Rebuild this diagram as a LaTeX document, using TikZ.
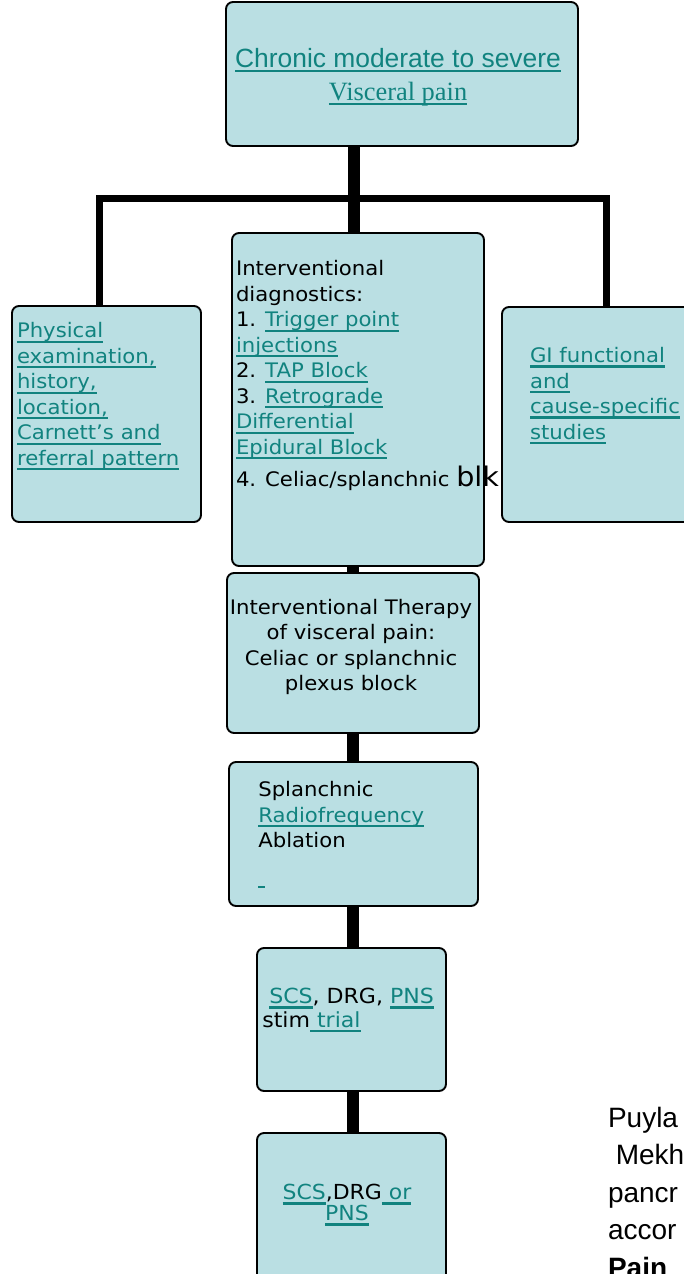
\documentclass[tikz,border=0pt]{standalone}
\usepackage{fontspec}
\setmainfont{DejaVu Sans}[FakeStretch=1.06]
\newfontfamily\arialf{Liberation Sans}
\newfontfamily\timesf{Liberation Serif}
\definecolor{boxfill}{HTML}{BADFE3}
\definecolor{lnk}{HTML}{11837F}
\newcommand{\ulk}[1]{\leavevmode{\color{lnk}\setbox0=\hbox{#1}\rlap{\rule[-5pt]{\wd0}{2.2pt}}\box0}}
\newcommand{\vtext}{\fontsize{20}{25.5}\selectfont}
\tikzset{
  box/.style={draw=black, line width=1.9pt, fill=boxfill, rounded corners=7pt, inner sep=0pt},
  txt/.style={inner sep=0pt, outer sep=0pt},
  trunk/.style={line width=12.5pt, draw=black},
  bar/.style={line width=7pt, draw=black, line join=miter},
}
\begin{document}
\begin{tikzpicture}[x=1pt,y=-1pt]
\useasboundingbox (0,0) rectangle (684,1274);
% boxes
\node[box, minimum width=352pt, minimum height=144pt] (top) at (402,74) {};
\node[box, minimum width=189pt, minimum height=216pt] (left) at (106.5,414) {};
\node[box, minimum width=252pt, minimum height=333pt] (mid) at (358,399.5) {};
\node[box, minimum width=218pt, minimum height=215pt] (right) at (611,414.5) {};
\node[box, minimum width=252pt, minimum height=160pt] (ther) at (353,653) {};
\node[box, minimum width=249pt, minimum height=144pt] (rf) at (353.5,834) {};
\node[box, minimum width=189pt, minimum height=143pt] (stim) at (351.5,1019.5) {};
\node[box, minimum width=189pt, minimum height=167pt] (perm) at (351.5,1216.5) {};
% connector coordinates
\coordinate (tx) at (354,0);
\coordinate (ty) at (353,0);
\coordinate (lx) at (99.5,198.5);
\coordinate (rx) at (606.5,198.5);
% connectors
\draw[bar] (left.north -| lx) -- (lx) -- (rx) -- (right.north -| rx);
\draw[trunk] (top.south -| tx) -- (mid.north -| tx);
\draw[trunk] (mid.south -| ty) -- (ther.north -| ty);
\draw[trunk] (ther.south -| ty) -- (rf.north -| ty);
\draw[trunk] (rf.south -| ty) -- (stim.north -| ty);
\draw[trunk] (stim.south -| ty) -- (perm.north -| ty);
% texts
\node[txt, anchor=base] (topT) at (398,67) {\parbox[t]{360pt}{\centering\fontsize{26.4}{33}\selectfont{\arialf\ulk{Chronic moderate to severe}}\\{\timesf\ulk{Visceral pain}}}};
\node[txt, anchor=base west] (leftT) at (17,337.7) {\parbox[t]{250pt}{\vtext\raggedright \ulk{Physical}\\\ulk{examination,}\\\ulk{history,}\\\ulk{location,}\\\ulk{Carnett’s and}\\\ulk{referral pattern}}};
\node[txt, anchor=base west] (midT) at (236,275.7) {\parbox[t]{300pt}{\vtext\raggedright Interventional\\diagnostics:\\1. \ulk{Trigger point}\\\ulk{injections}\\2. \ulk{TAP Block}\\3. \ulk{Retrograde}\\\ulk{Differential}\\\ulk{Epidural Block}\\[5.5pt]4. Celiac/splanchnic {\fontsize{27}{27}\selectfont blk}}};
\node[txt, anchor=base west] (rightT) at (530,362.5) {\parbox[t]{250pt}{\vtext\raggedright \ulk{GI functional}\\\ulk{and}\\\ulk{cause-specific}\\\ulk{studies}}};
\node[txt, anchor=base] (therT) at (351,614.3) {\parbox[t]{260pt}{\vtext\centering Interventional Therapy\\of visceral pain:\\Celiac or splanchnic\\plexus block}};
\node[txt, anchor=base west] (rfT) at (258.3,796.7) {\parbox[t]{250pt}{\vtext\raggedright Splanchnic\\\ulk{Radiofrequency}\\Ablation\\[9.5pt]\ulk{\ }}};
\node[txt, anchor=base west] (stimT) at (262.3,1003.5) {\parbox[t]{250pt}{\fontsize{20.8}{23.5}\selectfont\lineskiplimit=-20pt\raggedright \leavevmode\ \ulk{SCS}, DRG, \ulk{PNS}\\stim\ulk{\ trial}}};
\node[txt, anchor=base] (permT) at (347,1199.5) {\parbox[t]{200pt}{\fontsize{20.7}{21}\selectfont\lineskiplimit=-20pt\centering \ulk{SCS},DRG\ulk{\ or}\\\ulk{PNS}}};
\node[txt, anchor=base west] (refT) at (608,1127) {\parbox[t]{200pt}{\arialf\fontsize{28}{37.5}\selectfont\raggedright Puyla\\\leavevmode\ Mekh\\pancr\\accor\\\textbf{Pain}}};
\end{tikzpicture}
\end{document}
